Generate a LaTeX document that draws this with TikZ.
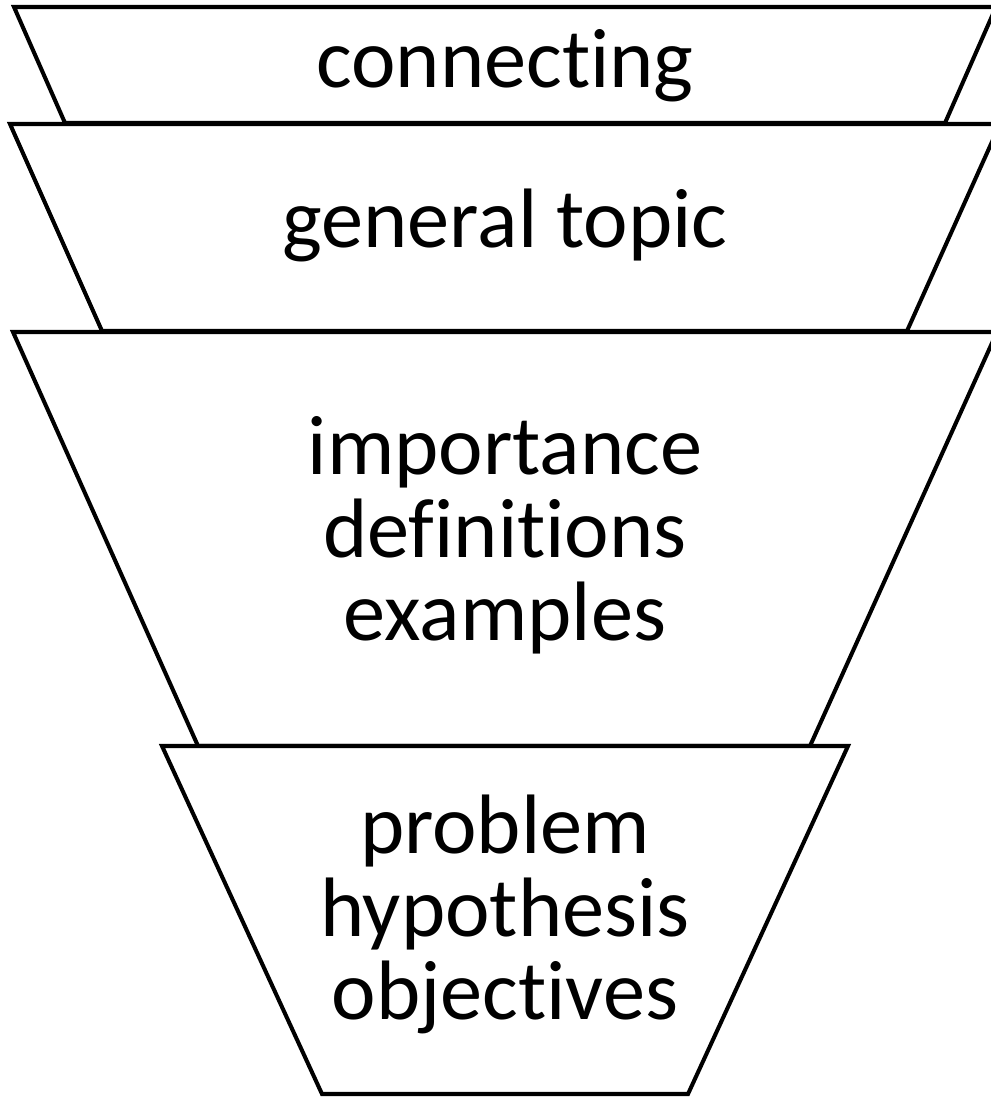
\documentclass[tikz,border=0pt]{standalone}
\usepackage{fontspec}
\setmainfont{Carlito}[Ligatures=NoCommon]
\begin{document}
\begin{tikzpicture}[x=0.02cm,y=-0.02cm,
  trap/.style={draw=black,fill=white,line width=2.3pt,line join=miter},
  lbl/.style={anchor=base,inner sep=0pt,font=\fontsize{48}{48}\selectfont}]
\useasboundingbox (0,0) rectangle (990,1097);
\fill[white] (0,0) rectangle (990,1097);
\draw[trap] (14,7) -- (996,7) -- (945,123) -- (65,123) -- cycle;
\draw[trap] (10,124) -- (1000,124) -- (907,331) -- (102,331) -- cycle;
\draw[trap] (13,332) -- (997,332) -- (810,746) -- (198,746) -- cycle;
\draw[trap] (162,746) -- (848,746) -- (688,1094) -- (322,1094) -- cycle;
\node[lbl] (t1) at (505,88) {connecting};
\node[lbl] (t2) at (505,248) {general topic};
\node[lbl] (t3a) at (505,474) {importance};
\node[lbl] (t3b) at (505,557) {definitions};
\node[lbl] (t3c) at (505,640) {examples};
\node[lbl] (t4a) at (505,853) {problem};
\node[lbl] (t4b) at (505,936) {hypothesis};
\node[lbl] (t4c) at (505,1019) {objectives};
\end{tikzpicture}
\end{document}
